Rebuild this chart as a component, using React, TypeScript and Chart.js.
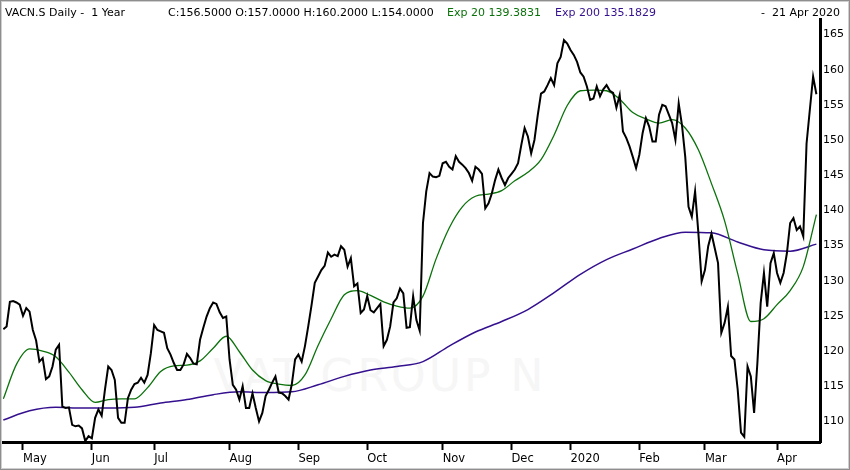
import { useEffect, useRef } from "react";
import { Chart, registerables } from "chart.js";

Chart.register(...registerables);

// daily closes, 23 Apr 2019 .. 21 Apr 2020 (SIX trading days)
const closeValues = [
  123.1, 123.5, 127.0, 127.1, 126.9, 126.6, 125.0, 126.1, 125.6, 123.0,
  121.5, 118.5, 119.0, 116.0, 116.4, 117.8, 120.2, 120.9, 112.1, 111.9,
  112.0, 109.5, 109.3, 109.4, 109.0, 107.2, 107.9, 107.6, 110.5, 111.7,
  110.8, 114.5, 117.8, 117.3, 115.9, 110.5, 109.8, 109.8, 113.3, 114.5,
  115.3, 115.5, 116.2, 115.5, 116.6, 119.7, 123.7, 123.0, 122.8, 122.6,
  120.4, 119.5, 118.3, 117.3, 117.3, 118.1, 119.6, 119.0, 118.2, 118.1,
  121.6, 123.3, 124.9, 126.1, 126.9, 126.7, 125.5, 124.7, 124.9, 118.8,
  115.2, 114.5, 113.1, 115.0, 111.9, 111.9, 114.0, 111.9, 110.0, 111.2,
  113.6, 114.5, 115.5, 116.4, 114.1, 114.0, 113.6, 113.1, 115.3, 118.8,
  119.5, 118.5, 120.7, 123.5, 126.5, 129.7, 130.6, 131.5, 132.1, 134.0,
  133.4, 133.7, 133.5, 134.9, 134.4, 132.0, 133.2, 129.2, 129.6, 125.4,
  125.9, 127.8, 125.8, 125.5, 126.1, 126.7, 120.7, 121.6, 123.5, 126.9,
  127.5, 128.9, 128.2, 123.3, 123.4, 127.8, 124.4, 122.9, 138.2, 142.7,
  145.3, 144.8, 144.7, 144.9, 146.7, 146.9, 146.2, 145.8, 147.7, 146.9,
  146.5, 146.0, 145.3, 144.2, 146.2, 145.8, 145.2, 140.3, 141.0, 142.4,
  144.3, 145.8, 144.6, 143.6, 144.6, 145.2, 145.8, 146.7, 149.3, 151.7,
  150.5, 148.1, 150.0, 153.5, 156.6, 156.9, 157.8, 158.8, 157.8, 160.9,
  161.8, 164.2, 163.7, 162.8, 162.1, 161.1, 159.6, 159.0, 157.6, 155.7,
  155.9, 157.6, 156.2, 157.2, 157.8, 157.0, 156.7, 154.6, 156.4, 151.2,
  150.3, 149.1, 147.6, 146.0, 147.9, 151.0, 153.1, 151.9, 149.8, 149.8,
  153.6, 155.0, 154.8, 153.6, 152.4, 150.0, 155.2, 152.1, 147.6, 140.5,
  139.1, 142.7, 136.8, 129.9, 131.5, 134.9, 136.7, 134.6, 132.5, 122.6,
  124.0, 126.3, 119.3, 118.8, 114.5, 108.4, 107.8, 117.8, 116.4, 111.2,
  118.3, 126.8, 131.1, 126.3, 132.5, 133.9, 131.1, 129.7, 131.1, 133.9,
  138.2, 138.9, 137.2, 137.7, 136.3, 149.5, 154.3, 159.0, 156.5,
];

// Exp 20, read every 4th trading day
const ema20Step = 4;
const ema20Values = [
  113.2, 118.1, 120.3, 120.0, 119.2, 117.0, 114.5, 112.7, 113.1, 113.2,
  113.2, 114.8, 117.1, 117.9, 118.0, 118.6, 120.4, 122.1, 119.9, 117.3,
  115.8, 115.3, 115.1, 116.6, 120.8, 124.6, 128.0, 128.6, 127.9, 127.0,
  126.4, 126.1, 127.8, 133.1, 137.5, 140.5, 142.0, 142.3, 142.8, 144.2,
  145.4, 147.2, 150.7, 154.9, 157.0, 157.1, 157.0, 155.8, 153.9, 153.0,
  152.4, 152.9, 151.7, 148.6, 143.8, 138.5, 131.0, 124.2, 124.6, 126.6,
  128.6, 132.0, 139.4,
];

// Exp 200, read every 8th trading day
const ema200Step = 8;
const ema200Values = [
  110.2, 111.5, 112.0, 111.9, 111.9, 112.0, 112.6, 113.1, 113.8, 114.2,
  114.1, 114.2, 115.2, 116.4, 117.3, 117.8, 118.5, 120.7, 122.7, 124.2,
  125.9, 128.3, 130.9, 133.0, 134.5, 136.0, 136.9, 136.8, 135.5, 134.4,
  134.2, 135.2,
];

const monthStarts = [6, 27, 46, 69, 90, 111, 134, 155, 173, 194, 214, 236];
const monthLabels = ["May", "Jun", "Jul", "Aug", "Sep", "Oct", "Nov", "Dec", "2020", "Feb", "Mar", "Apr"];
const priceTicks = [110, 115, 120, 125, 130, 135, 140, 145, 150, 155, 160, 165];

const titleText = "VACN.S Daily -  1 Year";
const ohlcText = "C:156.5000 O:157.0000 H:160.2000 L:154.0000";
const ema20Text = "Exp 20 139.3831";
const ema200Text = "Exp 200 135.1829";
const dateText = "-  21 Apr 2020";

const GREEN = "#0b720b";
const PURPLE = "#34108f";

export default function App() {
  const canvasRef = useRef<HTMLCanvasElement>(null);

  useEffect(() => {
    document.body.style.margin = "0";
    if (!canvasRef.current) return;

    const chart = new Chart(canvasRef.current, {
      type: "line",
      data: {
        datasets: [
          {
            label: "Close",
            data: closeValues.map((v, i) => ({ x: i, y: v })),
            borderColor: "#000",
            borderWidth: 2,
            pointRadius: 0,
            tension: 0,
          },
          {
            label: "Exp 20",
            data: ema20Values.map((v, i) => ({ x: i * ema20Step, y: v })),
            borderColor: GREEN,
            borderWidth: 1.3,
            pointRadius: 0,
            cubicInterpolationMode: "monotone",
          },
          {
            label: "Exp 200",
            data: ema200Values.map((v, i) => ({ x: i * ema200Step, y: v })),
            borderColor: PURPLE,
            borderWidth: 1.5,
            pointRadius: 0,
            cubicInterpolationMode: "monotone",
          },
        ],
      },
      options: {
        animation: false,
        responsive: true,
        maintainAspectRatio: false,
        events: [],
        layout: { padding: { left: 3, top: 19, right: 0, bottom: 0 } },
        plugins: { legend: { display: false }, tooltip: { enabled: false } },
        scales: {
          x: {
            type: "linear",
            min: -0.1,
            max: 249.1,
            afterBuildTicks: (scale) => {
              scale.ticks = monthStarts.map((v) => ({ value: v }));
            },
            afterFit: (scale) => {
              scale.height = 28;
            },
            grid: {
              drawOnChartArea: false,
              drawTicks: true,
              tickLength: 8,
              tickColor: "#000",
              tickWidth: 2,
            },
            border: { display: true, color: "#000", width: 3 },
            ticks: {
              autoSkip: false,
              maxRotation: 0,
              minRotation: 0,
              align: "start",
              padding: 2,
              color: "#000",
              font: { family: "DejaVu Sans", size: 11.5 },
              callback: (_v, index) => monthLabels[index] ?? "",
            },
          },
          y: {
            type: "linear",
            position: "right",
            min: 107.07,
            max: 167.2,
            afterBuildTicks: (scale) => {
              scale.ticks = priceTicks.map((v) => ({ value: v }));
            },
            afterFit: (scale) => {
              scale.width = 30;
            },
            grid: { display: false, drawTicks: false },
            border: { display: true, color: "#000", width: 3 },
            ticks: {
              padding: 3,
              color: "#000",
              font: { family: "DejaVu Sans", size: 11 },
            },
          },
        },
      },
    });

    return () => chart.destroy();
  }, []);

  const head: React.CSSProperties = {
    position: "absolute",
    top: 5,
    whiteSpace: "pre",
    fontFamily: "DejaVu Sans",
    fontSize: 11,
    lineHeight: "15px",
    color: "#000",
  };

  return (
    <div style={{ position: "relative", width: 850, height: 470, background: "#fff", overflow: "hidden" }}>
      <div
        style={{
          position: "absolute",
          left: 190,
          top: 350,
          width: 380,
          textAlign: "center",
          fontFamily: "DejaVu Sans",
          fontSize: 44,
          letterSpacing: 3,
          color: "#f6f6f6",
          whiteSpace: "pre",
        }}
      >
        VAT GROUP N
      </div>
      <div style={{ position: "absolute", left: 0, top: 0, width: 850, height: 470 }}>
        <canvas ref={canvasRef} />
      </div>
      <span style={{ ...head, left: 5 }}>{titleText}</span>
      <span style={{ ...head, left: 168 }}>{ohlcText}</span>
      <span style={{ ...head, left: 447, color: GREEN }}>{ema20Text}</span>
      <span style={{ ...head, left: 555, color: PURPLE }}>{ema200Text}</span>
      <span style={{ ...head, right: 10 }}>{dateText}</span>
      <div
        style={{
          position: "absolute",
          inset: 0,
          border: "1px solid #8e8e8e",
          boxShadow: "inset 0 0 0 1px #cfcfcf",
          pointerEvents: "none",
        }}
      />
    </div>
  );
}
